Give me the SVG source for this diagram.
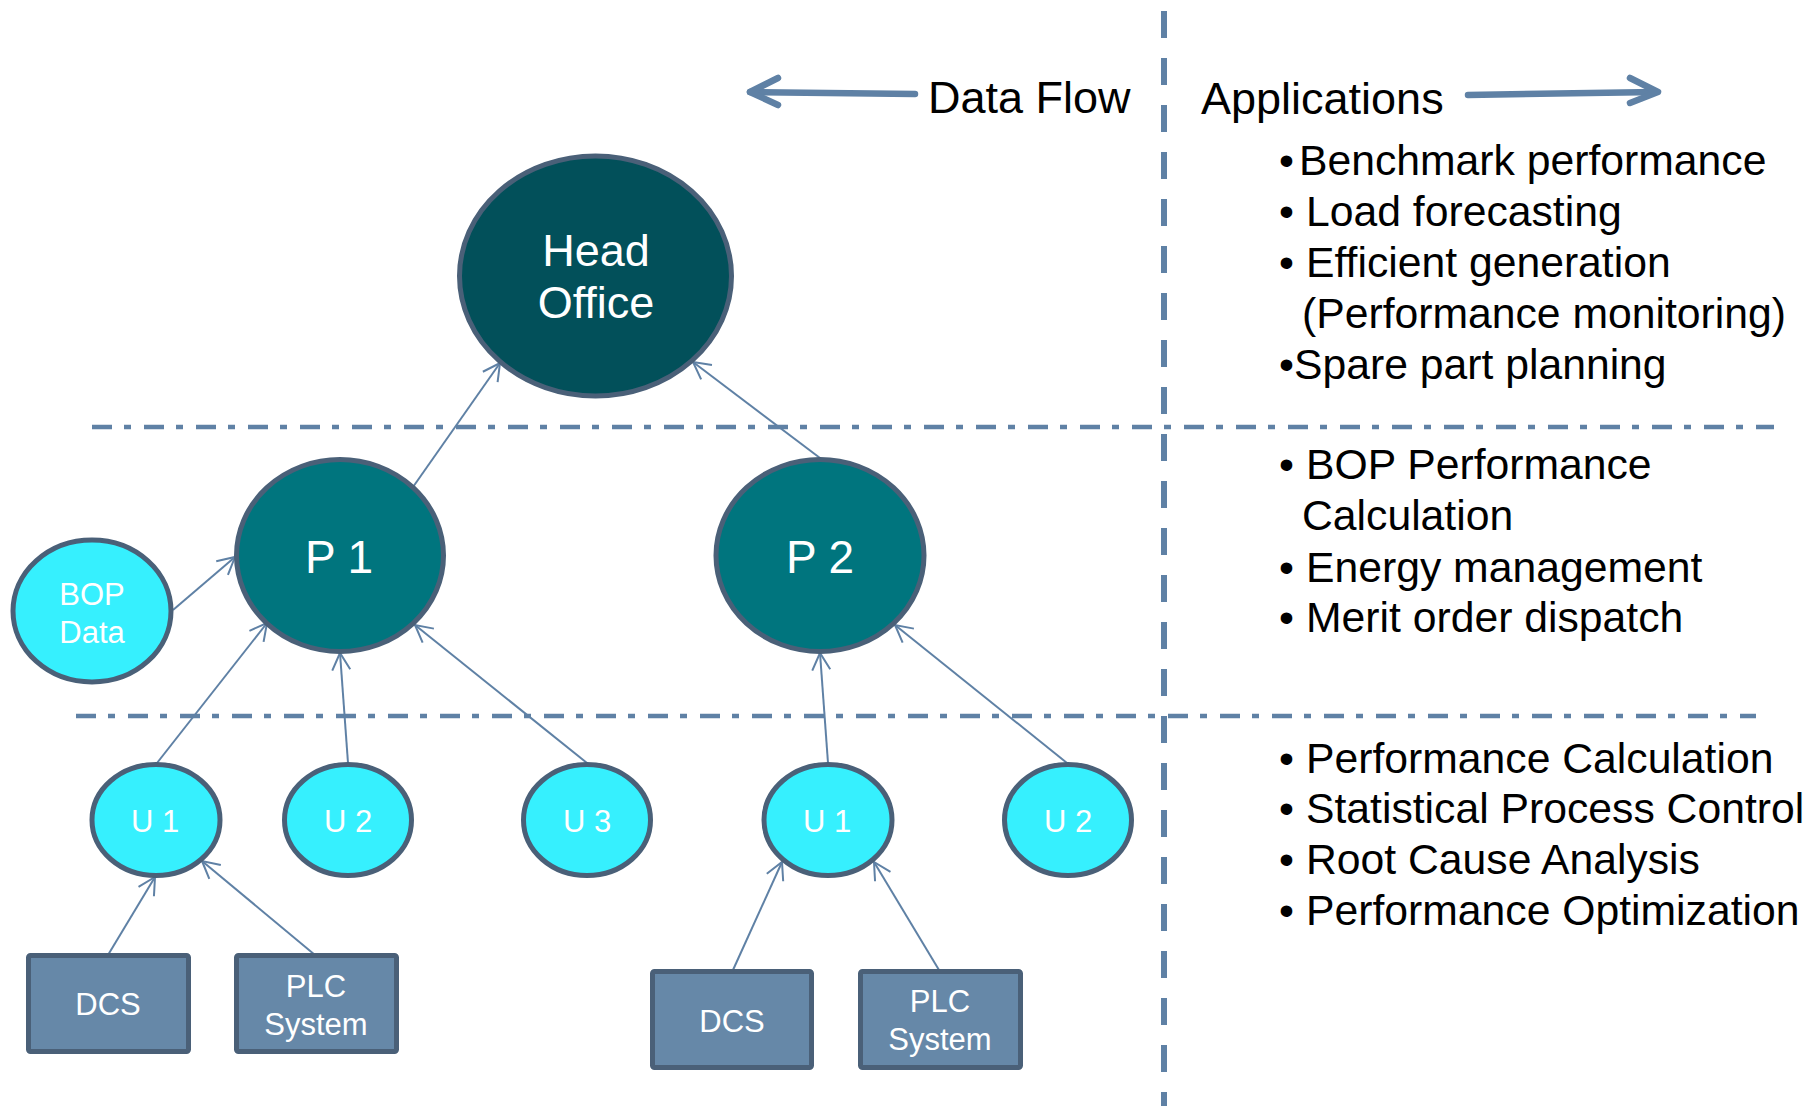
<svg xmlns="http://www.w3.org/2000/svg" width="1806" height="1106" viewBox="0 0 1806 1106">
<style>
  .lbl { font-family: "Liberation Sans", Arial, sans-serif; fill: #ffffff; text-anchor: middle; }
  .txt { font-family: "Liberation Sans", Arial, sans-serif; fill: #000000; font-size: 42.7px; }
  .hdr { font-family: "Liberation Sans", Arial, sans-serif; fill: #000000; font-size: 45px; }
  .node { stroke: #4a6078; stroke-width: 5; }
  .head { fill: #02505a; }
  .plant { fill: #00757e; }
  .unit { fill: #36f0fe; }
  .box { fill: #6688a8; stroke: #4a6078; stroke-width: 5; }
  .conn { stroke: #5f81a5; stroke-width: 2; fill: none; marker-end: url(#ah); }
  .sep { stroke: #5f81a5; stroke-width: 4.5; fill: none; stroke-dasharray: 20 12 7 13; }
  .vsep { stroke: #5f81a5; stroke-width: 6; fill: none; stroke-dasharray: 27 20; }
  .big { stroke: #5f81a5; stroke-width: 6.5; fill: none; stroke-linecap: round; stroke-linejoin: round; }
</style>
<defs>
  <marker id="ah" viewBox="-20 -12 24 24" refX="0" refY="0" markerWidth="24" markerHeight="24" markerUnits="userSpaceOnUse" orient="auto">
    <path d="M-17,-9 L0,0 L-17,9" fill="none" stroke="#5f81a5" stroke-width="2"/>
  </marker>
</defs>
<rect width="1806" height="1106" fill="#ffffff"/>

<g id="separators">
  <line class="vsep" x1="1164" y1="11" x2="1164" y2="1106"/>
  <line class="sep" x1="92" y1="427" x2="1774" y2="427"/>
  <line class="sep" x1="76" y1="716" x2="1756" y2="716"/>
</g>

<g id="header">
  <path class="big" d="M915,94 L750,92"/>
  <path class="big" d="M778,78 L750,92 L778,105"/>
  <text class="hdr" x="928" y="113">Data Flow</text>
  <text class="hdr" x="1201" y="114">Applications</text>
  <path class="big" d="M1468,95 L1656,92"/>
  <path class="big" d="M1630,78 L1658,92 L1630,103"/>
</g>

<g id="connectors">
  <line class="conn" x1="413" y1="487" x2="500" y2="363"/>
  <line class="conn" x1="820" y1="458" x2="693" y2="362"/>
  <line class="conn" x1="173" y1="610" x2="235" y2="557"/>
  <line class="conn" x1="157" y1="763" x2="267" y2="623"/>
  <line class="conn" x1="348" y1="763" x2="340" y2="653"/>
  <line class="conn" x1="587" y1="763" x2="415" y2="625"/>
  <line class="conn" x1="828" y1="763" x2="820" y2="653"/>
  <line class="conn" x1="1067" y1="763" x2="895" y2="625"/>
  <line class="conn" x1="108" y1="955" x2="155" y2="877"/>
  <line class="conn" x1="315" y1="955" x2="202" y2="861"/>
  <line class="conn" x1="733" y1="970" x2="782" y2="862"/>
  <line class="conn" x1="939" y1="970" x2="874" y2="862"/>
</g>

<g id="head-office">
  <ellipse class="node head" cx="595.5" cy="276" rx="136" ry="120"/>
  <text class="lbl" x="596" y="266" font-size="45">Head</text>
  <text class="lbl" x="596" y="318" font-size="45">Office</text>
</g>

<g id="p1">
  <ellipse class="node plant" cx="340" cy="555.5" rx="103.5" ry="96"/>
  <text class="lbl" x="339" y="573" font-size="46">P 1</text>
</g>

<g id="p2">
  <ellipse class="node plant" cx="820" cy="555.5" rx="104" ry="96"/>
  <text class="lbl" x="820" y="573" font-size="46">P 2</text>
</g>

<g id="bop-data">
  <ellipse class="node unit" cx="92" cy="611" rx="79" ry="71"/>
  <text class="lbl" x="92" y="605" font-size="31">BOP</text>
  <text class="lbl" x="92" y="643" font-size="31">Data</text>
</g>

<g id="p1-u1">
  <ellipse class="node unit" cx="156" cy="820" rx="64" ry="55.5"/>
  <text class="lbl" x="155" y="832" font-size="31">U 1</text>
</g>
<g id="p1-u2">
  <ellipse class="node unit" cx="348" cy="820" rx="63.5" ry="55.5"/>
  <text class="lbl" x="348" y="832" font-size="31">U 2</text>
</g>
<g id="p1-u3">
  <ellipse class="node unit" cx="587" cy="820" rx="63.5" ry="55.5"/>
  <text class="lbl" x="587" y="832" font-size="31">U 3</text>
</g>
<g id="p2-u1">
  <ellipse class="node unit" cx="828" cy="820" rx="64" ry="55.5"/>
  <text class="lbl" x="827" y="832" font-size="31">U 1</text>
</g>
<g id="p2-u2">
  <ellipse class="node unit" cx="1068" cy="820" rx="63.5" ry="55.5"/>
  <text class="lbl" x="1068" y="832" font-size="31">U 2</text>
</g>

<g id="dcs-1">
  <rect class="box" x="28.5" y="955.5" width="160" height="96" rx="2"/>
  <text class="lbl" x="108" y="1015" font-size="31">DCS</text>
</g>
<g id="plc-1">
  <rect class="box" x="236.5" y="955.5" width="160" height="96" rx="2"/>
  <text class="lbl" x="316" y="997" font-size="31">PLC</text>
  <text class="lbl" x="316" y="1035" font-size="31">System</text>
</g>
<g id="dcs-2">
  <rect class="box" x="652.5" y="971.5" width="159" height="96" rx="2"/>
  <text class="lbl" x="732" y="1032" font-size="31">DCS</text>
</g>
<g id="plc-2">
  <rect class="box" x="860.5" y="971.5" width="160" height="96" rx="2"/>
  <text class="lbl" x="940" y="1012" font-size="31">PLC</text>
  <text class="lbl" x="940" y="1050" font-size="31">System</text>
</g>

<g id="apps-head-office">
  <text class="txt" y="175"><tspan x="1279">•</tspan><tspan x="1299">Benchmark performance</tspan></text>
  <text class="txt" y="226"><tspan x="1279">•</tspan><tspan x="1306">Load forecasting</tspan></text>
  <text class="txt" y="277"><tspan x="1279">•</tspan><tspan x="1306">Efficient generation</tspan></text>
  <text class="txt" x="1302" y="328">(Performance monitoring)</text>
  <text class="txt" y="379"><tspan x="1279">•</tspan><tspan x="1294">Spare part planning</tspan></text>
</g>

<g id="apps-plant">
  <text class="txt" y="479"><tspan x="1279">•</tspan><tspan x="1306">BOP Performance</tspan></text>
  <text class="txt" x="1302" y="530">Calculation</text>
  <text class="txt" y="582"><tspan x="1279">•</tspan><tspan x="1306">Energy management</tspan></text>
  <text class="txt" y="632"><tspan x="1279">•</tspan><tspan x="1306">Merit order dispatch</tspan></text>
</g>

<g id="apps-unit">
  <text class="txt" y="773"><tspan x="1279">•</tspan><tspan x="1306">Performance Calculation</tspan></text>
  <text class="txt" y="823"><tspan x="1279">•</tspan><tspan x="1306">Statistical Process Control</tspan></text>
  <text class="txt" y="874"><tspan x="1279">•</tspan><tspan x="1306">Root Cause Analysis</tspan></text>
  <text class="txt" y="925"><tspan x="1279">•</tspan><tspan x="1306">Performance Optimization</tspan></text>
</g>
</svg>
